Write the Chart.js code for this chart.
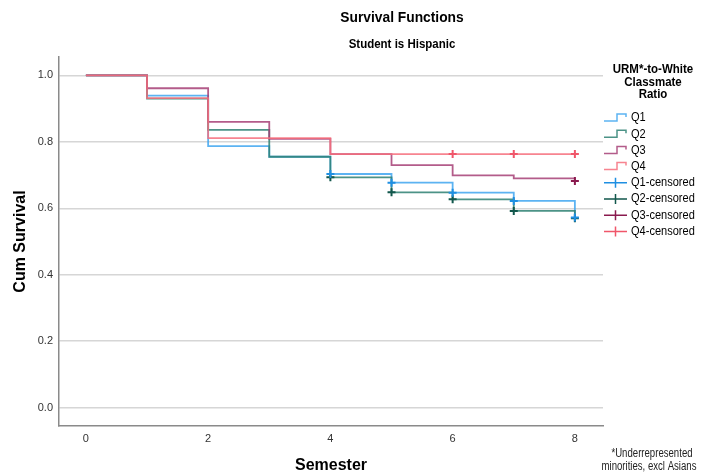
<!DOCTYPE html>
<html>
<head>
<meta charset="utf-8">
<script src="https://cdn.jsdelivr.net/npm/chart.js@4"></script>
<style>
  body { margin: 0; background: #fff; }
  canvas { display: block; }
</style>
</head>
<body>
<canvas id="survChart" width="703" height="476"></canvas>
<script>
// survival estimates (step drops at each semester)
const semesters = [0, 1, 2, 3, 4, 5, 6, 7, 8];
const q1Surv = [1.0, 0.939, 0.787, 0.755, 0.703, 0.677, 0.647, 0.622, 0.572];
const q2Surv = [1.0, 0.930, 0.836, 0.755, 0.693, 0.648, 0.627, 0.592, 0.570];
const q3Surv = [1.0, 0.961, 0.860, 0.809, 0.763, 0.730, 0.699, 0.690, 0.682];
const q4Surv = [1.0, 0.931, 0.811, 0.811, 0.763, 0.763, 0.763, 0.763, 0.763];

// censored marks
const q1CensTimes = [4, 5, 6, 7, 8];
const q1CensSurv = [0.703, 0.677, 0.647, 0.622, 0.572];
const q2CensTimes = [4, 5, 6, 7, 8];
const q2CensSurv = [0.693, 0.648, 0.627, 0.592, 0.570];
const q3CensTimes = [8];
const q3CensSurv = [0.682];
const q4CensTimes = [6, 7, 8];
const q4CensSurv = [0.763, 0.763, 0.763];

const groupNames = ["Q1", "Q2", "Q3", "Q4"];
const xTickVals = [0, 2, 4, 6, 8];
const yTickVals = [0, 0.2, 0.4, 0.6, 0.8, 1.0];

const lineCols = ["rgba(64,166,240,0.85)", "rgba(45,128,114,0.85)", "rgba(166,64,118,0.85)", "rgba(246,110,124,0.85)"];
const censCols = ["#1f8fe2", "#12574c", "#8a1a4e", "#f0566a"];

const FONT = "'Liberation Sans', Arial, sans-serif";

function pts(xs, ys) {
    return xs.map((x, i) => ({x: x, y: ys[i]}));
}

const survSets = [q1Surv, q2Surv, q3Surv, q4Surv];
const censSets = [[q1CensTimes, q1CensSurv], [q2CensTimes, q2CensSurv], [q3CensTimes, q3CensSurv], [q4CensTimes, q4CensSurv]];

const datasets = [];
survSets.forEach((s, i) => {
    datasets.push({
        label: groupNames[i],
        data: pts(semesters, s),
        stepped: true,
        borderColor: lineCols[i],
        borderWidth: 1.8,
        pointRadius: 0,
        fill: false,
        order: 4 - i   // Q4 ends up on top like in SPSS
    });
});
censSets.forEach((c, i) => {
    datasets.push({
        label: groupNames[i] + "-censored",
        data: pts(c[0], c[1]),
        showLine: false,
        pointStyle: "cross",
        pointRadius: 4,
        pointBorderWidth: 2,
        borderColor: censCols[i],
        backgroundColor: censCols[i],
        order: -1
    });
});

// condensed text, SPSS uses a narrow face for the note
function narrowText(ctx, txt, x, y, sx) {
    ctx.save();
    ctx.translate(x, y);
    ctx.scale(sx, 1);
    ctx.fillText(txt, 0, 0);
    ctx.restore();
}

// titles, legend and footnote
const annotations = {
    id: "annotations",
    afterDraw(chart) {
        const ctx = chart.ctx;
        ctx.save();
        ctx.fillStyle = "#000";
        ctx.textAlign = "center";
        ctx.textBaseline = "middle";
        ctx.font = "bold 15px " + FONT;
        narrowText(ctx, "Survival Functions", 402, 18, 0.92);
        ctx.font = "bold 12.5px " + FONT;
        narrowText(ctx, "Student is Hispanic", 402, 45, 0.92);

        // legend title
        ctx.font = "bold 12.5px " + FONT;
        narrowText(ctx, "URM*-to-White", 653, 70, 0.92);
        narrowText(ctx, "Classmate", 653, 82.5, 0.92);
        narrowText(ctx, "Ratio", 653, 95, 0.92);

        ctx.textAlign = "left";
        ctx.font = "12px " + FONT;
        const x0 = 604, step = 16.2;
        let y = 118;
        for (let i = 0; i < 4; i++) {
            ctx.strokeStyle = lineCols[i];
            ctx.lineWidth = 1.5;
            ctx.beginPath();
            ctx.moveTo(x0, y + 3);
            ctx.lineTo(x0 + 13, y + 3);
            ctx.lineTo(x0 + 13, y - 4);
            ctx.lineTo(x0 + 22, y - 4);
            ctx.lineTo(x0 + 22, y - 1);
            ctx.stroke();
            ctx.fillStyle = "#000";
            narrowText(ctx, groupNames[i], 631, y, 0.92);
            y += step;
        }
        for (let i = 0; i < 4; i++) {
            ctx.strokeStyle = censCols[i];
            ctx.lineWidth = 1.5;
            ctx.beginPath();
            ctx.moveTo(x0, y);
            ctx.lineTo(x0 + 23, y);
            ctx.moveTo(x0 + 11.5, y - 5);
            ctx.lineTo(x0 + 11.5, y + 5);
            ctx.stroke();
            ctx.fillStyle = "#000";
            narrowText(ctx, groupNames[i] + "-censored", 631, y, 0.92);
            y += step;
        }

        // footnote
        ctx.textAlign = "center";
        ctx.fillStyle = "#222";
        ctx.font = "12px " + FONT;
        narrowText(ctx, "*Underrepresented", 652, 454, 0.8);
        narrowText(ctx, "minorities, excl Asians", 649, 467, 0.8);
        ctx.restore();
    }
};

const survCtx = document.getElementById("survChart").getContext("2d");

const survChart = new Chart(survCtx, {
    type: "line",
    data: {datasets: datasets},
    options: {
        responsive: false,
        animation: false,
        devicePixelRatio: 1,
        layout: {padding: {top: 57, right: 100, left: 0, bottom: 0}},
        plugins: {
            legend: {display: false},
            tooltip: {enabled: false}
        },
        scales: {
            x: {
                type: "linear",
                min: -0.44,
                max: 8.46,
                afterBuildTicks: s => { s.ticks = xTickVals.map(v => ({value: v})); },
                afterFit: s => { s.height = 50; },
                grid: {display: false, drawTicks: false},
                border: {color: "#8a8a8a", width: 1.5},
                ticks: {color: "#333", font: {family: FONT, size: 11}, padding: 6, maxRotation: 0},
                title: {display: true, text: "Semester", color: "#000", font: {family: FONT, size: 16, weight: "bold"}, padding: {top: 0, bottom: 1}}
            },
            y: {
                type: "linear",
                min: -0.055,
                max: 1.055,
                afterBuildTicks: s => { s.ticks = yTickVals.map(v => ({value: v})); },
                afterFit: s => { s.width = 59; },
                grid: {color: "#d6d6d6", lineWidth: 1.5, drawTicks: false},
                border: {color: "#8a8a8a", width: 1.5},
                ticks: {color: "#333", font: {family: FONT, size: 11}, padding: 6, callback: v => v.toFixed(1)},
                title: {display: true, text: "Cum Survival", color: "#000", font: {family: FONT, size: 16, weight: "bold"}, padding: {top: 11, bottom: 0}}
            }
        }
    },
    plugins: [annotations]
});
</script>
</body>
</html>
